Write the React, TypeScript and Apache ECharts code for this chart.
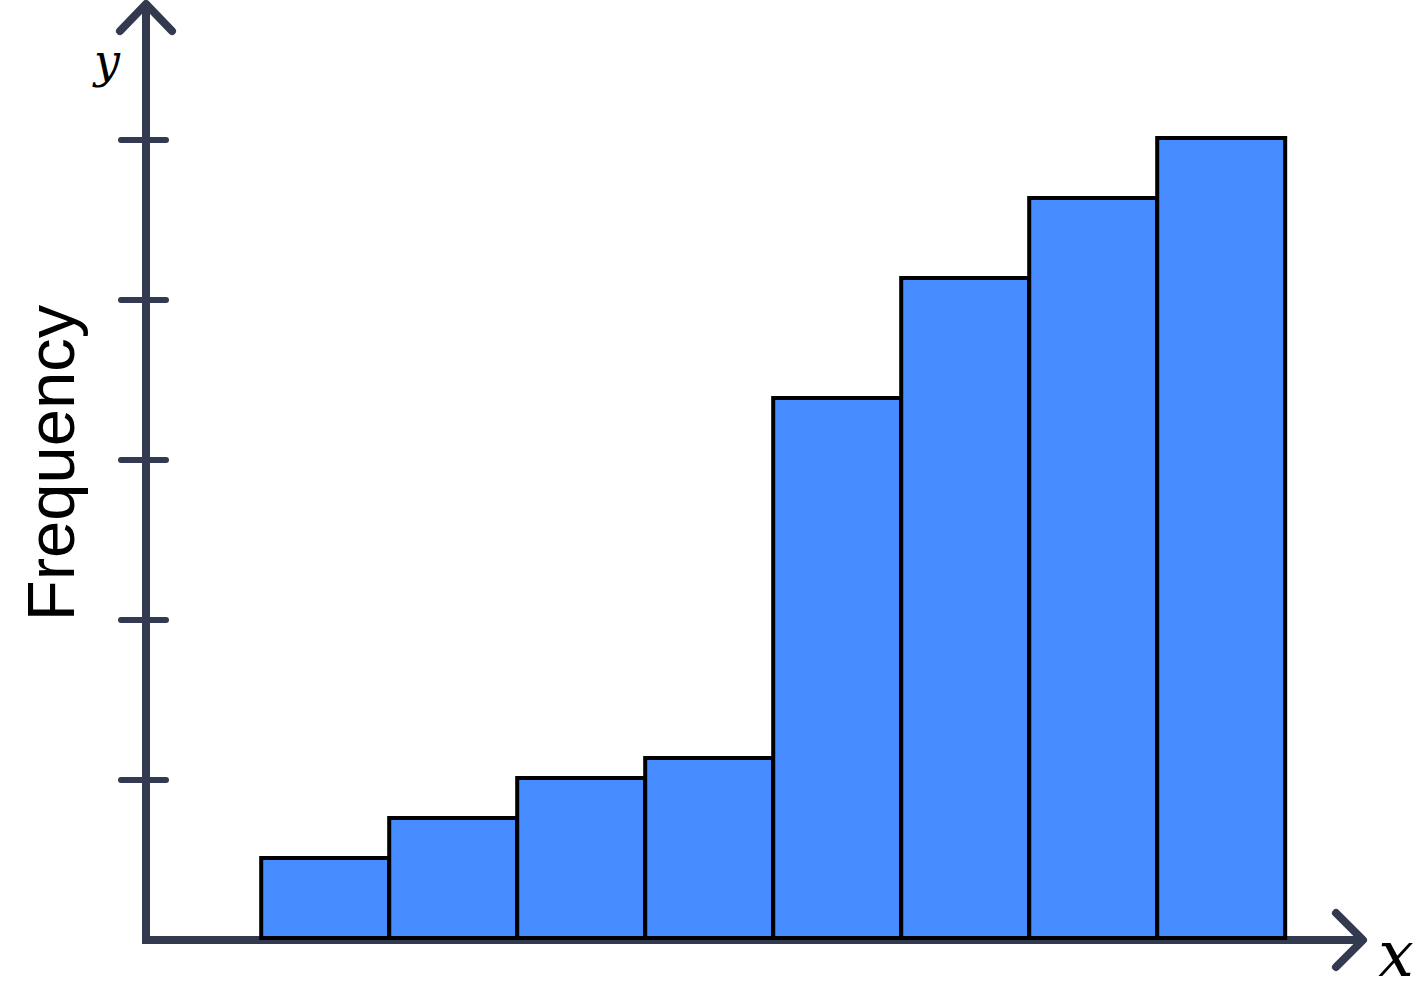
import React, { useEffect, useRef } from "react";
import * as echarts from "echarts";

// Bin left edges (x units, 1 unit = 1 bin width) and frequencies
const binStarts = [0.9, 1.9, 2.9, 3.9, 4.9, 5.9, 6.9, 7.9];
const binWidth = 1;
const frequencies = [4, 6, 8, 9, 27, 33, 37, 40];
const yTickValues = [8, 16, 24, 32, 40];

const AXIS_COLOR = "#333A4F";
const BAR_COLOR = "#468BFF";

export default function App() {
  const ref = useRef<HTMLDivElement>(null);

  useEffect(() => {
    document.body.style.margin = "0";
    const chart = echarts.init(ref.current!, null, { renderer: "svg" });
    const data = binStarts.map((s, i) => [s, s + binWidth, frequencies[i]]);

    chart.setOption({
      animation: false,
      backgroundColor: "#ffffff",
      grid: { left: 146, right: 60, top: 8, bottom: 42 },
      xAxis: {
        type: "value",
        min: 0,
        max: 9.4766,
        axisLine: { show: true, lineStyle: { color: AXIS_COLOR, width: 8, cap: "square" } },
        axisTick: { show: false },
        axisLabel: { show: false },
        splitLine: { show: false },
      },
      yAxis: [
        {
          type: "value",
          min: 0,
          max: 46.6,
          position: "left",
          axisLine: { show: true, lineStyle: { color: AXIS_COLOR, width: 8, cap: "square" } },
          axisTick: {
            show: true,
            inside: false,
            length: 25,
            customValues: yTickValues,
            lineStyle: { color: AXIS_COLOR, width: 6, cap: "round" },
          },
          axisLabel: { show: false },
          splitLine: { show: false },
        },
        {
          type: "value",
          min: 0,
          max: 46.6,
          position: "left",
          axisLine: { show: false },
          axisTick: {
            show: true,
            inside: true,
            length: 20,
            customValues: yTickValues,
            lineStyle: { color: AXIS_COLOR, width: 6, cap: "round" },
          },
          axisLabel: { show: false },
          splitLine: { show: false },
        },
      ],
      series: [
        {
          type: "custom",
          xAxisIndex: 0,
          yAxisIndex: 0,
          data,
          renderItem: (params: any, api: any) => {
            const x0 = api.value(0);
            const x1 = api.value(1);
            const h = api.value(2);
            const p0 = api.coord([x0, h]);
            const p1 = api.coord([x1, 0]);
            return {
              type: "rect",
              y: -2,
              shape: { x: p0[0], y: p0[1], width: p1[0] - p0[0], height: p1[1] - p0[1] },
              style: { fill: BAR_COLOR, stroke: "#000000", lineWidth: 4 },
            };
          },
        },
      ],
      graphic: [
        {
          type: "polyline",
          shape: { points: [[120, 31], [146, 4], [172, 31]] },
          style: { stroke: AXIS_COLOR, lineWidth: 8, lineCap: "round", lineJoin: "round", fill: "none" },
          z: 100,
        },
        {
          type: "polyline",
          shape: { points: [[1336, 913], [1363, 940], [1336, 967]] },
          style: { stroke: AXIS_COLOR, lineWidth: 8, lineCap: "round", lineJoin: "round", fill: "none" },
          z: 100,
        },
        {
          type: "text",
          x: 107,
          y: 61,
          style: {
            text: "y",
            font: "italic 46px 'DejaVu Serif'",
            lineHeight: 40,
            fill: "#000000",
            align: "center",
            verticalAlign: "middle",
          },
        },
        {
          type: "text",
          x: 1396,
          y: 954,
          style: {
            text: "x",
            font: "italic 63px 'DejaVu Serif'",
            lineHeight: 40,
            fill: "#000000",
            align: "center",
            verticalAlign: "middle",
          },
        },
        {
          type: "text",
          x: 50,
          y: 463,
          rotation: Math.PI / 2,
          style: {
            text: "Frequency",
            font: "67px 'Liberation Sans'",
            fill: "#000000",
            align: "center",
            verticalAlign: "middle",
          },
        },
      ],
    });
    return () => chart.dispose();
  }, []);

  return <div ref={ref} style={{ width: 1419, height: 982 }} />;
}
